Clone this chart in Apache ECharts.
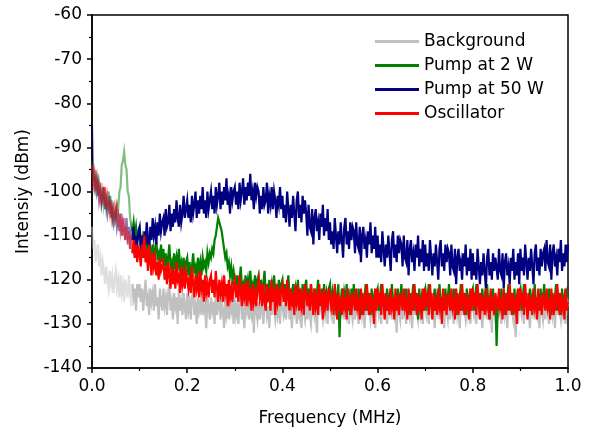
<!DOCTYPE html>
<html>
<head>
<meta charset="utf-8">
<script src="https://cdn.jsdelivr.net/npm/echarts@6/dist/echarts.min.js"></script>
<style>
  html, body { margin: 0; padding: 0; background: #fff; }
  #chart { width: 595px; height: 432px; }
</style>
</head>
<body>
<div id="chart"></div>
<script>
// spectra read every 0.0025 MHz from 0 to 1.0 MHz (401 points), values in dBm
const freqStep = 0.0025;
// the first stretch of each trace (up to ~0.085 MHz) is drawn faded in the original
const fadedUntil = 34;

const bgData = [
  -108, -113, -111, -116, -114, -112, -117, -115, -119, -116, -118, -121, -117, -120, -122, -118, -121, -119, -123, -120,
  -118, -122, -120, -124, -119, -123, -121, -125, -120, -122, -124, -119, -123, -126, -121, -124, -122, -127, -121, -124,
  -121, -125, -122, -127, -123, -120, -126, -124, -128, -122, -125, -123, -127, -121, -126, -124, -129, -122, -125, -127,
  -122, -126, -124, -128, -123, -121, -127, -125, -129, -123, -126, -124, -130, -122, -127, -125, -128, -123, -126, -129,
  -123, -127, -125, -129, -124, -122, -128, -126, -130, -124, -127, -125, -128, -123, -127, -126, -131, -124, -126, -129,
  -124, -127, -125, -130, -123, -128, -126, -124, -129, -125, -127, -131, -124, -128, -126, -129, -123, -127, -125, -130,
  -124, -128, -126, -130, -125, -123, -129, -127, -131, -125, -127, -124, -129, -126, -128, -125, -132, -124, -127, -129,
  -125, -129, -124, -127, -130, -126, -124, -128, -126, -131, -125, -128, -123, -127, -129, -125, -128, -126, -130, -124,
  -124, -128, -126, -129, -125, -123, -129, -127, -131, -125, -127, -124, -130, -126, -128, -125, -131, -124, -127, -129,
  -125, -129, -124, -128, -130, -126, -124, -128, -126, -132, -125, -128, -123, -127, -129, -125, -128, -126, -130, -124,
  -124, -128, -126, -130, -125, -123, -129, -127, -131, -125, -127, -124, -129, -126, -128, -125, -130, -124, -127, -129,
  -125, -129, -124, -127, -130, -126, -124, -128, -126, -131, -125, -128, -123, -127, -129, -125, -128, -126, -131, -124,
  -124, -128, -126, -130, -125, -123, -129, -127, -130, -125, -127, -124, -129, -126, -128, -125, -132, -124, -127, -129,
  -125, -129, -124, -127, -130, -126, -124, -128, -126, -131, -125, -128, -123, -127, -129, -125, -128, -126, -130, -124,
  -124, -128, -126, -130, -125, -123, -129, -127, -131, -125, -127, -124, -129, -126, -128, -125, -131, -124, -127, -129,
  -125, -129, -124, -127, -130, -126, -124, -128, -126, -131, -125, -128, -123, -127, -129, -125, -128, -126, -130, -124,
  -124, -128, -126, -130, -125, -123, -129, -127, -131, -125, -127, -124, -129, -126, -128, -125, -132, -124, -127, -129,
  -125, -129, -124, -127, -130, -126, -124, -128, -126, -131, -125, -128, -123, -127, -129, -125, -133, -126, -130, -124,
  -124, -128, -126, -130, -125, -123, -129, -127, -131, -125, -127, -124, -129, -126, -128, -125, -131, -124, -127, -129,
  -125, -129, -124, -127, -130, -126, -124, -128, -126, -131, -125, -128, -123, -127, -129, -125, -128, -126, -130, -124,
  -126
];

const pump2Data = [
  -93, -97, -96, -99, -97, -101, -98, -100, -102, -99, -103, -101, -104, -102, -100, -105, -103, -106, -104, -107,
  -106, -103, -104, -100, -99, -94, -93, -91, -94, -95, -100, -101, -106, -106, -109, -107, -110, -108, -111, -110,
  -109, -113, -111, -115, -110, -114, -112, -116, -111, -113, -115, -112, -116, -113, -111, -115, -114, -117, -112, -116,
  -113, -117, -114, -118, -115, -112, -117, -116, -119, -114, -117, -115, -118, -113, -117, -116, -120, -115, -118, -116,
  -115, -119, -116, -120, -117, -114, -118, -117, -120, -115, -118, -116, -119, -115, -117, -116, -118, -114, -116, -114,
  -115, -113, -114, -111, -110, -108, -106, -107, -108, -109, -111, -113, -115, -114, -117, -116, -119, -117, -120, -118,
  -118, -122, -119, -123, -120, -117, -122, -121, -124, -119, -122, -120, -123, -118, -122, -121, -124, -119, -122, -120,
  -119, -123, -120, -124, -121, -118, -123, -122, -125, -120, -123, -121, -124, -119, -123, -122, -125, -120, -123, -121,
  -120, -124, -121, -125, -122, -119, -124, -123, -126, -121, -124, -122, -125, -120, -124, -123, -126, -121, -124, -122,
  -120, -125, -122, -126, -121, -124, -127, -122, -125, -123, -120, -126, -124, -122, -127, -121, -125, -123, -126, -122,
  -121, -125, -123, -127, -122, -126, -124, -121, -133, -125, -122, -127, -123, -125, -121, -126, -124, -128, -122, -125,
  -121, -126, -123, -127, -122, -125, -128, -123, -126, -124, -121, -127, -125, -123, -128, -122, -126, -124, -127, -123,
  -122, -127, -124, -121, -126, -123, -128, -125, -122, -127, -124, -126, -121, -125, -128, -123, -126, -122, -127, -124,
  -121, -126, -123, -127, -122, -125, -128, -123, -126, -124, -121, -127, -125, -123, -129, -122, -126, -124, -127, -123,
  -122, -127, -124, -121, -126, -123, -128, -125, -122, -127, -124, -126, -121, -125, -128, -123, -126, -122, -127, -124,
  -121, -126, -123, -127, -122, -125, -128, -123, -126, -124, -121, -127, -125, -123, -128, -122, -126, -124, -127, -123,
  -122, -127, -124, -121, -126, -123, -128, -125, -122, -127, -124, -126, -121, -125, -129, -123, -126, -122, -127, -124,
  -135, -126, -123, -127, -122, -125, -128, -123, -126, -124, -121, -127, -125, -123, -128, -122, -126, -124, -127, -123,
  -122, -127, -124, -121, -126, -123, -128, -125, -122, -127, -124, -126, -121, -125, -128, -123, -126, -122, -127, -124,
  -121, -126, -123, -127, -122, -125, -128, -123, -126, -124, -121, -127, -125, -123, -128, -122, -126, -124, -127, -123,
  -124
];

const pump50Data = [
  -85, -96, -99, -97, -100, -98, -102, -100, -103, -101, -99, -104, -102, -105, -103, -101, -106, -104, -107, -105,
  -104, -108, -106, -109, -105, -110, -107, -109, -111, -106, -110, -108, -113, -109, -111, -108, -115, -110, -112, -109,
  -108, -113, -110, -115, -109, -112, -107, -111, -113, -108, -111, -106, -110, -108, -112, -107, -110, -105, -109, -107,
  -106, -110, -104, -108, -107, -103, -109, -105, -108, -104, -107, -102, -106, -108, -103, -107, -105, -101, -106, -104,
  -102, -106, -103, -107, -101, -105, -103, -100, -106, -102, -105, -101, -104, -99, -105, -102, -106, -100, -104, -102,
  -100, -104, -101, -105, -99, -103, -101, -98, -104, -100, -103, -99, -102, -97, -103, -101, -105, -99, -102, -100,
  -99, -103, -100, -104, -98, -102, -100, -97, -103, -99, -102, -98, -101, -96, -102, -100, -104, -98, -101, -99,
  -100, -105, -101, -104, -99, -103, -102, -98, -105, -101, -103, -99, -104, -100, -102, -106, -101, -103, -99, -104,
  -101, -106, -103, -107, -100, -104, -108, -103, -106, -101, -105, -109, -102, -100, -106, -103, -107, -101, -105, -102,
  -105, -110, -103, -108, -109, -104, -112, -106, -104, -109, -107, -111, -105, -108, -103, -110, -106, -109, -104, -111,
  -107, -112, -109, -113, -106, -110, -114, -109, -112, -107, -111, -115, -108, -106, -112, -109, -113, -107, -111, -108,
  -109, -114, -107, -112, -113, -108, -116, -110, -108, -113, -111, -115, -109, -112, -107, -114, -110, -113, -108, -115,
  -110, -115, -112, -116, -109, -113, -117, -112, -115, -110, -114, -118, -111, -109, -115, -112, -116, -110, -114, -111,
  -112, -117, -110, -115, -116, -111, -119, -113, -111, -116, -114, -118, -112, -115, -110, -117, -113, -116, -111, -118,
  -112, -117, -114, -118, -111, -115, -119, -114, -117, -112, -116, -120, -113, -111, -117, -114, -118, -112, -116, -113,
  -114, -119, -112, -117, -118, -113, -121, -115, -113, -118, -116, -120, -114, -117, -112, -119, -115, -118, -113, -120,
  -114, -119, -116, -120, -113, -117, -121, -116, -119, -114, -118, -122, -115, -113, -119, -116, -120, -114, -118, -115,
  -115, -120, -113, -118, -119, -114, -122, -116, -114, -119, -117, -121, -115, -118, -113, -120, -116, -119, -114, -121,
  -113, -118, -115, -119, -112, -116, -120, -115, -118, -113, -117, -121, -114, -112, -118, -115, -119, -113, -117, -114,
  -113, -118, -111, -116, -117, -112, -120, -114, -112, -117, -115, -119, -113, -116, -111, -118, -114, -117, -112, -116,
  -112
];

const oscData = [
  -94, -98, -96, -100, -97, -99, -101, -98, -102, -100, -103, -99, -104, -101, -103, -105, -102, -106, -104, -103,
  -106, -104, -108, -105, -109, -107, -110, -106, -111, -108, -112, -109, -113, -110, -114, -111, -115, -112, -116, -113,
  -114, -117, -112, -115, -110, -116, -113, -118, -112, -116, -119, -114, -117, -115, -119, -116, -120, -115, -118, -117,
  -116, -120, -117, -121, -116, -119, -122, -117, -121, -118, -122, -116, -120, -119, -123, -117, -121, -119, -122, -118,
  -118, -122, -119, -123, -117, -121, -124, -119, -122, -120, -124, -118, -122, -120, -125, -119, -123, -121, -124, -120,
  -119, -123, -120, -124, -118, -122, -125, -120, -123, -121, -125, -119, -123, -121, -126, -120, -124, -122, -125, -121,
  -120, -124, -121, -125, -119, -123, -126, -121, -124, -122, -126, -120, -124, -122, -127, -121, -125, -123, -126, -122,
  -120, -124, -122, -126, -121, -125, -127, -121, -124, -123, -127, -120, -125, -122, -128, -121, -125, -123, -126, -122,
  -121, -125, -122, -126, -120, -124, -127, -122, -125, -123, -128, -121, -125, -123, -127, -122, -126, -124, -128, -121,
  -121, -126, -123, -127, -121, -125, -128, -122, -126, -124, -128, -121, -126, -123, -129, -122, -126, -124, -127, -122,
  -122, -126, -123, -128, -121, -125, -129, -123, -127, -124, -128, -122, -126, -124, -129, -122, -127, -125, -128, -123,
  -123, -127, -122, -126, -124, -129, -122, -126, -128, -123, -127, -121, -125, -128, -123, -126, -124, -130, -122, -127,
  -122, -126, -123, -128, -121, -125, -129, -123, -127, -124, -128, -122, -126, -124, -129, -122, -127, -125, -128, -123,
  -123, -127, -122, -126, -124, -129, -122, -126, -128, -123, -127, -121, -125, -128, -123, -126, -124, -129, -122, -127,
  -122, -126, -123, -128, -121, -125, -129, -123, -127, -124, -128, -122, -126, -124, -130, -122, -127, -125, -128, -123,
  -123, -127, -122, -126, -124, -129, -122, -126, -128, -123, -127, -121, -125, -128, -123, -126, -124, -129, -122, -127,
  -122, -126, -123, -128, -121, -125, -129, -123, -127, -124, -128, -122, -126, -124, -129, -122, -127, -125, -128, -123,
  -123, -127, -122, -126, -124, -129, -122, -126, -128, -123, -127, -121, -125, -128, -123, -126, -124, -130, -122, -127,
  -122, -126, -123, -128, -121, -125, -129, -123, -127, -124, -128, -122, -126, -124, -129, -122, -127, -125, -128, -123,
  -123, -127, -122, -126, -124, -129, -122, -126, -128, -123, -127, -121, -125, -128, -123, -126, -124, -129, -122, -127,
  -125
];

const seriesNames = ['Background', 'Pump at 2 W', 'Pump at 50 W', 'Oscillator'];
const seriesColors = ['#c0c0c0', '#008000', '#000080', '#ff0000'];
const allData = [bgData, pump2Data, pump50Data, oscData];

const font = 'DejaVu Sans';

const toPairs = (arr, from, to) =>
  arr.slice(from, to).map((v, i) => [(i + from) * freqStep, v]);

const myChart = echarts.init(document.getElementById('chart'));

const lineSeries = (i, from, to, opacity) => ({
  name: seriesNames[i],
  type: 'line',
  data: toPairs(allData[i], from, to),
  showSymbol: false,
  symbol: 'none',
  sampling: false,
  color: seriesColors[i],
  lineStyle: { color: seriesColors[i], width: 2.2, opacity: opacity, join: 'miter' },
  emphasis: { disabled: true },
  z: 2 + i,
});

const series = [];
allData.forEach((d, i) => series.push(lineSeries(i, fadedUntil, d.length, 1)));
allData.forEach((d, i) => series.push(lineSeries(i, 0, fadedUntil + 1, 0.5)));

myChart.setOption({
  animation: false,
  backgroundColor: '#fff',
  grid: {
    left: 92,
    right: 27,
    top: 15,
    bottom: 64,
    show: true,
    borderColor: '#000',
    borderWidth: 1.5,
  },
  legend: {
    orient: 'vertical',
    left: 370,
    top: 28,
    itemWidth: 44,
    itemHeight: 3,
    itemGap: 7,
    icon: 'rect',
    itemStyle: { opacity: 1 },
    lineStyle: { opacity: 1 },
    textStyle: {
      fontFamily: font,
      fontSize: 17,
      color: '#000',
    },
    data: seriesNames,
  },
  xAxis: {
    type: 'value',
    min: 0,
    max: 1,
    interval: 0.2,
    name: 'Frequency (MHz)',
    nameLocation: 'middle',
    nameGap: 42,
    nameTextStyle: { fontFamily: font, fontSize: 17, color: '#000' },
    axisLine: { lineStyle: { color: '#000', width: 1.5 } },
    axisTick: { inside: false, length: 5, lineStyle: { color: '#000', width: 1.5 } },
    minorTick: { show: true, splitNumber: 2, length: 3, lineStyle: { color: '#000', width: 1.2 } },
    axisLabel: {
      margin: 10,
      fontFamily: font,
      fontSize: 17,
      color: '#000',
      formatter: v => v.toFixed(1),
    },
    splitLine: { show: false },
  },
  yAxis: {
    type: 'value',
    min: -140,
    max: -60,
    interval: 10,
    name: 'Intensiy (dBm)',
    nameLocation: 'middle',
    nameGap: 56,
    nameTextStyle: { fontFamily: font, fontSize: 17, color: '#000' },
    axisLine: { lineStyle: { color: '#000', width: 1.5 } },
    axisTick: { inside: false, length: 5, lineStyle: { color: '#000', width: 1.5 } },
    minorTick: { show: true, splitNumber: 2, length: 3, lineStyle: { color: '#000', width: 1.2 } },
    axisLabel: {
      margin: 10,
      fontFamily: font,
      fontSize: 17,
      color: '#000',
    },
    splitLine: { show: false },
  },
  series: series,
});
</script>
</body>
</html>
